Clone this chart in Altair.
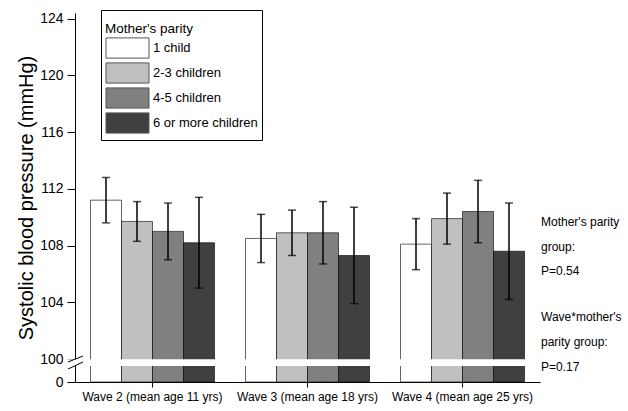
import altair as alt
import pandas as pd

# ---- data ----
waves = ["Wave 2 (mean age 11 yrs)", "Wave 3 (mean age 18 yrs)", "Wave 4 (mean age 25 yrs)"]
parity = ["1 child", "2-3 children", "4-5 children", "6 or more children"]
colors = ["#ffffff", "#c0c0c0", "#808080", "#404040"]

mean_w2 = [111.2, 109.7, 109.0, 108.2]
mean_w3 = [108.5, 108.9, 108.9, 107.3]
mean_w4 = [108.1, 109.9, 110.4, 107.6]
low_w2 = [109.6, 108.3, 107.0, 105.0]
low_w3 = [106.8, 107.3, 106.7, 103.9]
low_w4 = [106.3, 108.1, 108.2, 104.2]
up_w2 = [112.8, 111.1, 111.0, 111.4]
up_w3 = [110.2, 110.5, 111.1, 110.7]
up_w4 = [109.9, 111.7, 112.6, 111.0]

annot_block1 = ["Mother's parity", "group:", "P=0.54"]
annot_block2 = ["Wave*mother's", "parity group:", "P=0.17"]

y_major = [0, 100, 104, 108, 112, 116, 120, 124]
y_minor = [40, 102, 106, 110, 114, 118, 122]
break_band = [69.6, 98.5]
break_lines_y1 = [87.0, 56.5]
break_lines_y2 = [100.21, 87.0]

rows = []
for w, m, lo, up in zip(waves, [mean_w2, mean_w3, mean_w4], [low_w2, low_w3, low_w4], [up_w2, up_w3, up_w4]):
    for p, mm, l, u in zip(parity, m, lo, up):
        rows.append({"wave": w, "parity": p, "mean": mm, "lower": l, "upper": u})
df = pd.DataFrame(rows)

W, H = 465, 369
FONT = "Liberation Sans"

y_scale = alt.Scale(domain=[0, 100, 124.4], range=[H, H - 23, 0], nice=False, zero=False)
x_enc = alt.X("wave:N", sort=waves, scale=alt.Scale(paddingInner=0.2, paddingOuter=0.1),
              axis=alt.Axis(title=None, labelAngle=0, labelFontSize=12, labelColor="black",
                            tickSize=5, tickColor="black", domainColor="black",
                            labelPadding=4, zindex=1))
xo_enc = alt.XOffset("parity:N", sort=parity, scale=alt.Scale(paddingInner=0, paddingOuter=0))

is_minor = "datum.value % 4 != 0 || datum.value == 40"
y_axis = alt.Axis(values=sorted(y_major + y_minor),
                  labelExpr="(" + is_minor + ") ? '' : datum.label",
                  tickSize={"condition": {"test": is_minor, "value": 4}, "value": 8},
                  title="Systolic blood pressure (mmHg)", titleFontSize=20,
                  titleFontWeight="normal", titleColor="black", titlePadding=3,
                  labelFontSize=14, labelColor="black", labelPadding=4,
                  tickColor="black", domainColor="black", grid=False, zindex=0)

base = alt.Chart(df)

bars = base.mark_bar(stroke="black", strokeOpacity=0.6, strokeWidth=1).encode(
    x=x_enc,
    xOffset=xo_enc,
    y=alt.Y("mean:Q", scale=y_scale, axis=y_axis),
    fill=alt.Fill("parity:N", sort=parity, scale=alt.Scale(domain=parity, range=colors),
                  legend=alt.Legend(title="Mother's parity", orient="none", legendX=26, legendY=-3,
                                    direction="vertical", strokeColor="black", fillColor="white",
                                    padding=4, titleFontSize=13.5, titleFontWeight="normal",
                                    titleColor="black", labelFontSize=13, labelColor="black",
                                    titleBaseline="line-top", titleLineHeight=30,
                                    symbolType="M-2,-0.94H2V0.94H-2Z", symbolSize=462,
                                    symbolOffset=11,
                                    symbolStrokeColor="#555555", symbolStrokeWidth=1,
                                    symbolOpacity=1, rowPadding=0, labelOffset=14, titlePadding=9)),
)

err = base.mark_rule(color="black", strokeWidth=1.5).encode(
    x=alt.X("wave:N", sort=waves), xOffset=xo_enc,
    y=alt.Y("lower:Q", scale=y_scale), y2="upper:Q")
cap_lo = base.mark_tick(color="black", size=8, thickness=1.5).encode(
    x=alt.X("wave:N", sort=waves), xOffset=xo_enc, y=alt.Y("lower:Q", scale=y_scale))
cap_hi = base.mark_tick(color="black", size=8, thickness=1.5).encode(
    x=alt.X("wave:N", sort=waves), xOffset=xo_enc, y=alt.Y("upper:Q", scale=y_scale))

band = alt.Chart(pd.DataFrame({"a": [break_band[0]], "b": [break_band[1]]})).mark_rect(
    fill="white").encode(x=alt.value(-12), x2=alt.value(W),
                         y=alt.Y("a:Q", scale=y_scale), y2="b:Q")

brk = alt.Chart(pd.DataFrame({"y1": break_lines_y1, "y2": break_lines_y2})).mark_rule(
    color="black", strokeWidth=1).encode(x=alt.value(-7), x2=alt.value(8),
                                          y=alt.Y("y1:Q", scale=y_scale), y2="y2:Q")

one = pd.DataFrame({"a": [0]})
annot1 = alt.Chart(one).mark_text(
    text=annot_block1, align="left", baseline="middle", fontSize=12, lineHeight=24.6,
    color="black", font=FONT).encode(x=alt.value(W + 1), y=alt.value(209))
annot2 = alt.Chart(one).mark_text(
    text=annot_block2, align="left", baseline="middle", fontSize=12, lineHeight=25,
    color="black", font=FONT).encode(x=alt.value(W + 1), y=alt.value(304))

chart = alt.layer(bars, err, cap_lo, cap_hi, band, brk, annot1, annot2).properties(
    width=W, height=H,
    autosize=alt.AutoSizeParams(type="none"),
    padding={"left": 75, "top": 13, "right": 88, "bottom": 29},
).configure(font=FONT).configure_view(stroke=None)

chart.save("out.html", embed_options={"renderer": "svg", "actions": False})
